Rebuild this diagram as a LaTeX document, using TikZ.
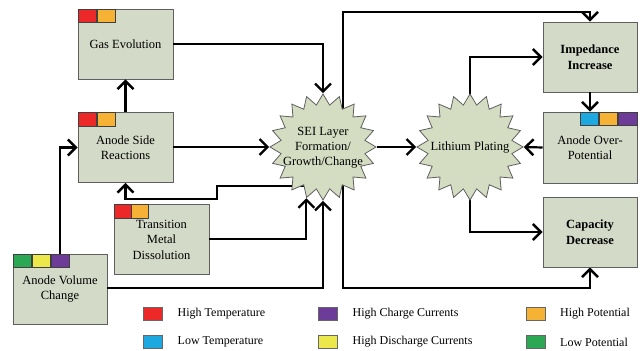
\documentclass[tikz,border=0pt]{standalone}
\usepackage{fontspec}
\setmainfont{Liberation Serif}
\usetikzlibrary{shapes.geometric,arrows.meta,backgrounds,calc}
\definecolor{boxfill}{RGB}{212,218,200}
\definecolor{starfill}{RGB}{212,220,194}
\definecolor{boxline}{RGB}{95,95,95}
\definecolor{cred}{RGB}{236,40,40}
\definecolor{corange}{RGB}{245,178,52}
\definecolor{cpurple}{RGB}{108,60,152}
\definecolor{cblue}{RGB}{30,168,224}
\definecolor{cyellow}{RGB}{236,232,76}
\definecolor{cgreen}{RGB}{44,168,84}
\tikzset{
  box/.style={draw=boxline, line width=0.8pt, fill=boxfill, minimum width=95pt,
    minimum height=70pt, inner sep=0pt, align=center,
    font=\rmfamily\fontsize{12.5}{15.5}\selectfont},
  starshape/.style={star, star points=20, star point ratio=1.25, minimum size=106pt,
    inner sep=0pt, draw=boxline, fill=starfill, line width=0.8pt},
  startext/.style={align=center, inner sep=0pt, font=\rmfamily\fontsize{12.5}{15}\selectfont},
  chip/.style={draw=black!75, line width=0.6pt, minimum width=18.5pt,
    minimum height=13.5pt, inner sep=0pt},
  legchip/.style={draw=black!60, line width=0.6pt, minimum width=19pt,
    minimum height=13.5pt, inner sep=0pt},
  legtext/.style={anchor=west, inner sep=0pt, font=\rmfamily\fontsize{12}{14}\selectfont},
  conn/.style={line width=2.2pt, -{Straight Barb[length=8pt,width=16pt,line width=2.4pt]}}
}
\begin{document}
\begin{tikzpicture}[x=1pt,y=-1pt]
\useasboundingbox (0,0) rectangle (641,351);

% boxes
\node[box] (gas) at (125.5,44) {Gas Evolution};
\node[box] (asr) at (125.5,147.5) {Anode Side\\Reactions};
\node[box] (tmd) at (161.5,239.5) {Transition\\Metal\\Dissolution};
\node[box, minimum width=94pt] (avc) at (60,289) {Anode Volume\\Change};
\node[box, minimum width=94pt, font=\rmfamily\fontsize{12.5}{15.5}\selectfont\bfseries] (imp) at (590,57) {Impedance\\Increase};
\node[box, minimum width=94pt, minimum height=71pt] (aop) at (590,147.5) {Anode Over-\\Potential};
\node[box, minimum width=94pt, font=\rmfamily\fontsize{12.5}{15.5}\selectfont\bfseries] (cap) at (590,232) {Capacity\\Decrease};

% chips
\node[chip, fill=cred, anchor=north west] (g1) at (gas.north west) {};
\node[chip, fill=corange, anchor=north west] (g2) at (g1.north east) {};
\node[chip, fill=cred, anchor=north west] (a1) at (asr.north west) {};
\node[chip, fill=corange, anchor=north west] (a2) at (a1.north east) {};
\node[chip, fill=cred, anchor=north west, minimum width=17pt] (t1) at (tmd.north west) {};
\node[chip, fill=corange, anchor=north west, minimum width=17pt] (t2) at (t1.north east) {};
\node[chip, fill=cgreen, anchor=north west] (v1) at (avc.north west) {};
\node[chip, fill=cyellow, anchor=north west] (v2) at (v1.north east) {};
\node[chip, fill=cpurple, anchor=north west] (v3) at (v2.north east) {};
\node[chip, fill=cpurple, anchor=north east, minimum width=19pt] (o3) at (aop.north east) {};
\node[chip, fill=corange, anchor=north east] (o2) at (o3.north west) {};
\node[chip, fill=cblue, anchor=north east] (o1) at (o2.north west) {};

% stars
\node[starshape] (sei) at (323,147) {};
\node[startext] (seit) at (323,148) {SEI Layer\\Formation/\\Growth/Change};
\node[starshape] (lip) at (470,147) {};
\node[startext] (lipt) at (470,148) {Lithium Plating};

% helper coordinates
\coordinate (topY) at (0,12);
\coordinate (botY) at (0,288);
\coordinate (bend) at (217,199);

% connectors emerging from the stars (behind them)
\begin{scope}[on background layer]
  \draw[conn] ($(sei.center)+(20,0)$) |- (imp.north |- topY) -- (imp.north);
  \draw[conn] ($(sei.center)+(20,0)$) |- (cap.south |- botY) -- (cap.south);
  \draw[conn] ($(sei.center)+(-10,39)$) -| (bend) -| (asr.south);
  \draw[conn] (lip.center) |- (imp.west);
  \draw[conn] (lip.center) |- (cap.west);
\end{scope}

% other connectors
\draw[conn] (gas.east) -| (sei.north);
\draw[conn] (asr.east |- sei.west) -- (sei.west);
\draw[conn] (asr.north) -- (gas.south);
\draw[conn] (avc.north) |- (asr.west);
\draw[conn] (tmd.east |- 0,239) -| (sei.outer point 10);
\draw[conn] (avc.east |- botY) -| (sei.south);
\draw[conn] (sei.east) -- (lip.west);
\draw[conn] (imp.south) -- (aop.north);
\draw[conn] (aop.west) -- (lip.east);

% legend
\node[legchip, fill=cred] (k1) at (152.5,314) {};
\node[legtext] (k1t) at (177.5,314) {High Temperature};
\node[legchip, fill=cblue] (k2) at (152.5,342) {};
\node[legtext] (k2t) at (177.5,342) {Low Temperature};
\node[legchip, fill=cpurple] (k3) at (327.5,314) {};
\node[legtext] (k3t) at (352.5,314) {High Charge Currents};
\node[legchip, fill=cyellow] (k4) at (327.5,342) {};
\node[legtext] (k4t) at (352.5,342) {High Discharge Currents};
\node[legchip, fill=corange] (k5) at (536,314) {};
\node[legtext] (k5t) at (560,314) {High Potential};
\node[legchip, fill=cgreen] (k6) at (536,342) {};
\node[legtext] (k6t) at (560,342) {Low Potential};
\end{tikzpicture}
\end{document}
